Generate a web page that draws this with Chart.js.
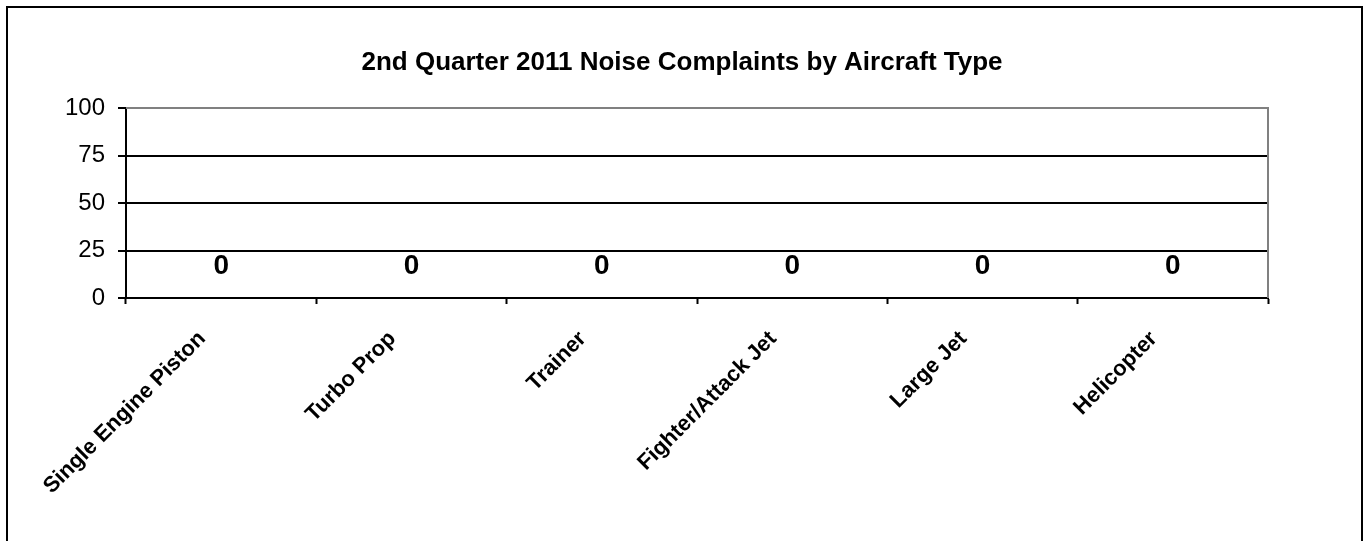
<!DOCTYPE html>
<html>
<head>
<meta charset="utf-8">
<title>2nd Quarter 2011 Noise Complaints by Aircraft Type</title>
<script src="https://cdn.jsdelivr.net/npm/chart.js@4.4.1/dist/chart.umd.min.js"></script>
<style>
  html, body { margin: 0; padding: 0; background: #fff; }
  canvas { display: block; }
</style>
</head>
<body>
<canvas id="chart" width="1364" height="541"></canvas>
<script>
// chart data
const categories = ['Single Engine Piston', 'Turbo Prop', 'Trainer', 'Fighter/Attack Jet', 'Large Jet', 'Helicopter'];
const complaints = [0, 0, 0, 0, 0, 0];
const yTicks = [0, 25, 50, 75, 100];

const FONT = '"Liberation Sans", Arial, sans-serif';

// outer frame around the whole picture
const framePlugin = {
  id: 'frame',
  beforeDraw(chart) {
    const ctx = chart.ctx;
    ctx.save();
    ctx.strokeStyle = '#000';
    ctx.lineWidth = 2;
    ctx.beginPath();
    ctx.moveTo(7, chart.height + 2);
    ctx.lineTo(7, 7);
    ctx.lineTo(1362, 7);
    ctx.lineTo(1362, chart.height + 2);
    ctx.stroke();
    ctx.restore();
  }
};

// gray border on the top and right of the plot area
const plotBorderPlugin = {
  id: 'plotBorder',
  afterDraw(chart) {
    const { ctx, chartArea } = chart;
    ctx.save();
    ctx.strokeStyle = '#808080';
    ctx.lineWidth = 2;
    ctx.beginPath();
    ctx.moveTo(chartArea.left, chartArea.top);
    ctx.lineTo(chartArea.right, chartArea.top);
    ctx.lineTo(chartArea.right, chartArea.bottom);
    ctx.stroke();
    ctx.restore();
  }
};

// value labels above each bar
const valueLabelPlugin = {
  id: 'valueLabels',
  afterDatasetsDraw(chart) {
    const ctx = chart.ctx;
    const meta = chart.getDatasetMeta(0);
    ctx.save();
    ctx.fillStyle = '#000';
    ctx.font = 'bold 28px ' + FONT;
    ctx.textAlign = 'center';
    ctx.textBaseline = 'middle';
    meta.data.forEach((bar, i) => {
      ctx.fillText(String(complaints[i]), bar.x, bar.y - 32);
    });
    ctx.restore();
  }
};

new Chart(document.getElementById('chart').getContext('2d'), {
  type: 'bar',
  data: {
    labels: categories,
    datasets: [{
      label: 'Complaints',
      data: complaints,
      backgroundColor: '#9999ff',
      borderWidth: 0
    }]
  },
  options: {
    responsive: false,
    animation: false,
    devicePixelRatio: 1,
    layout: { padding: 0 },
    plugins: {
      legend: { display: false },
      tooltip: { enabled: false },
      title: {
        display: true,
        text: '2nd Quarter 2011 Noise Complaints by Aircraft Type',
        color: '#000',
        font: { family: FONT, size: 26, weight: 'bold', lineHeight: 1.2 },
        padding: { top: 47, bottom: 29.8 }
      }
    },
    scales: {
      x: {
        afterFit(scale) { scale.height = 243; },
        grid: {
          offset: true,
          drawOnChartArea: false,
          drawTicks: true,
          tickLength: 6,
          tickColor: '#000',
          tickWidth: 2
        },
        border: { display: true, color: '#000', width: 2 },
        ticks: {
          color: '#000',
          font: { family: FONT, size: 22, weight: 'bold' },
          minRotation: 45,
          maxRotation: 45,
          autoSkip: false,
          labelOffset: -19,
          padding: 22
        }
      },
      y: {
        min: 0,
        max: 100,
        afterFit(scale) { scale.width = 126; },
        afterBuildTicks(scale) { scale.ticks = yTicks.map(v => ({ value: v })); },
        grid: {
          color: ctx => (ctx.tick && ctx.tick.value === 100 ? '#808080' : '#000'),
          lineWidth: 2,
          drawTicks: true,
          tickLength: 8,
          tickColor: '#000',
          tickWidth: 2
        },
        border: { display: true, color: '#000', width: 2 },
        ticks: {
          color: '#000',
          font: { family: FONT, size: 24 },
          padding: 13
        }
      },
      // empty right-hand axis that only reserves the margin right of the plot
      yRight: {
        position: 'right',
        display: true,
        afterFit(scale) { scale.width = 96; },
        grid: { display: false },
        border: { display: false },
        ticks: { display: false }
      }
    }
  },
  plugins: [framePlugin, plotBorderPlugin, valueLabelPlugin]
});
</script>
</body>
</html>
